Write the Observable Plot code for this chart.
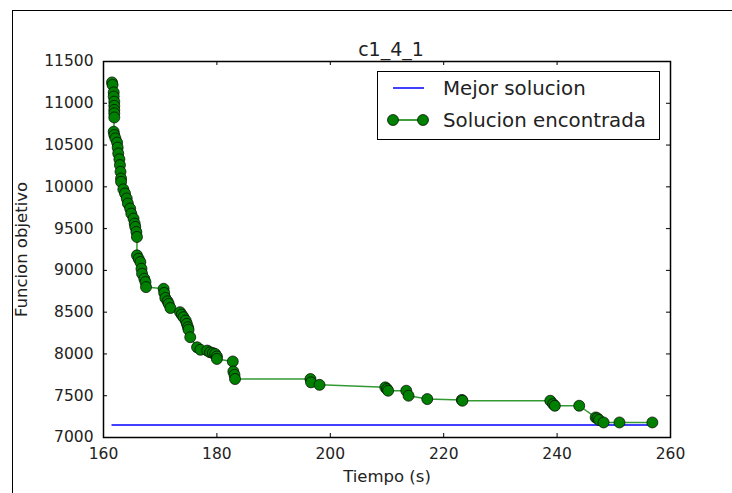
<!DOCTYPE html>
<html>
<head>
<meta charset="utf-8">
<script src="https://cdn.jsdelivr.net/npm/d3@7"></script>
<script src="https://cdn.jsdelivr.net/npm/@observablehq/plot@0.6"></script>
<style>
  html, body { margin: 0; padding: 0; background: #fff; }
  #wrap { position: relative; width: 732px; height: 493px; overflow: hidden; font-family: "DejaVu Sans", sans-serif; }
  #chart { position: absolute; left: 0; top: 0; }
  #border { position: absolute; left: 12px; top: 10px; width: 740px; height: 500px; border-left: 1.5px solid #000; border-top: 1.5px solid #000; }
  #legend { position: absolute; left: 377px; top: 71px; width: 281px; height: 67px; border: 1px solid #000; background: #fff; font-size: 19.8px; color: #222; }
  .row { position: absolute; left: 0; height: 20px; display: flex; align-items: center; }
  .row svg { position: absolute; left: 8px; }
  .row span { position: absolute; left: 65px; white-space: nowrap; }
</style>
</head>
<body>
<div id="wrap">
  <div id="chart"></div>
  <div id="border"></div>
  <div id="legend">
    <div class="row" style="top:6px"><svg id="lg1" width="50" height="20"></svg><span>Mejor solucion</span></div>
    <div class="row" style="top:38px"><svg id="lg2" width="50" height="20"></svg><span>Solucion encontrada</span></div>
  </div>
</div>
<script>
const chartTitle = "c1_4_1";
const xLabel = "Tiempo (s)";
const yLabel = "Funcion objetivo";
const seriesNames = ["Mejor solucion", "Solucion encontrada"];
const bestValue = 7150;
const xTicks = [160, 180, 200, 220, 240, 260];
const yTicks = [7000, 7500, 8000, 8500, 9000, 9500, 10000, 10500, 11000, 11500];

const times = [
  161.5, 161.6, 161.8, 161.8, 161.9, 161.9, 161.9, 161.9, 161.9,
  161.8, 161.9, 162.1, 162.4, 162.5, 162.6, 162.8, 162.9, 163.0, 163.1, 163.1,
  163.5, 163.8, 164.1, 164.3, 164.7, 164.9, 165.3, 165.5, 165.6, 165.8, 165.9,
  165.9, 166.2, 166.5, 166.7, 166.8, 167.2, 167.4, 167.5,
  170.6, 170.7, 170.9, 171.3, 171.5, 171.8,
  173.5, 173.8, 174.1, 174.5, 174.7, 174.9, 175.0, 175.3,
  176.5, 177.1, 178.3, 178.8, 179.3, 179.7, 180.0, 180.0,
  182.8, 182.9, 183.1, 183.2,
  196.5, 196.6, 198.1,
  209.7, 210.0, 210.2, 213.4, 213.8, 217.1,
  223.2, 223.3, 238.8, 239.3, 239.6, 243.9,
  246.8, 247.1, 247.4, 248.2, 251.0, 256.8
];
const values = [
  11250, 11220, 11130, 11080, 11020, 10970, 10920, 10880, 10830,
  10660, 10620, 10580, 10530, 10470, 10400, 10330, 10260, 10180, 10100, 10060,
  9970, 9920, 9860, 9800, 9740, 9680, 9620, 9560, 9520, 9460, 9400,
  9180, 9140, 9100, 9020, 8960, 8900, 8860, 8800,
  8780, 8730, 8670, 8630, 8600, 8550,
  8500, 8470, 8440, 8400, 8360, 8320, 8290, 8200,
  8080, 8050, 8040, 8020, 8010, 8000, 7970, 7940,
  7910, 7790, 7750, 7700,
  7700, 7660, 7630,
  7600, 7580, 7560, 7560, 7500, 7460,
  7450, 7440, 7440, 7400, 7380, 7380,
  7240, 7230, 7210, 7180, 7180, 7180
];

const data = times.map((t, i) => ({t, v: values[i]}));

const W = 732, H = 493;
const mL = 103, mR = 62, mT = 61, mB = 56;
const innerW = W - mL - mR, innerH = H - mT - mB;
const tickLen = 4;
const green = "#008000", blue = "#0000ff";

const plot = Plot.plot({
  width: W, height: H,
  marginLeft: mL, marginRight: mR, marginTop: mT, marginBottom: mB,
  style: {fontFamily: "DejaVu Sans, sans-serif", fontSize: "15.5px", color: "#222", background: "transparent"},
  x: {domain: [160, 260], label: null},
  y: {domain: [7000, 11500], label: null},
  marks: [
    Plot.axisX(xTicks, {tickSize: 0, tickPadding: 10, fontSize: 15.5, tickFormat: d => String(d)}),
    Plot.axisY(yTicks, {tickSize: 0, tickPadding: 10, fontSize: 15.5, tickFormat: d => String(d)}),
    Plot.ruleY([bestValue], {x1: times[0], x2: times[times.length - 1], stroke: blue, strokeWidth: 1.5}),
    Plot.line(data, {x: "t", y: "v", stroke: green, strokeWidth: 1.5, strokeOpacity: 0.8}),
    Plot.dot(data, {x: "t", y: "v", r: 5.5, fill: green, stroke: "#000", strokeWidth: 0.7}),
    Plot.tickX(xTicks, {x: d => d, insetTop: innerH - tickLen, stroke: "#000", strokeWidth: 1}),
    Plot.tickX(xTicks, {x: d => d, insetBottom: innerH - tickLen, stroke: "#000", strokeWidth: 1}),
    Plot.tickY(yTicks, {y: d => d, insetRight: innerW - tickLen, stroke: "#000", strokeWidth: 1}),
    Plot.tickY(yTicks, {y: d => d, insetLeft: innerW - tickLen, stroke: "#000", strokeWidth: 1}),
    Plot.frame({stroke: "#000", strokeWidth: 1.5}),
    Plot.text([chartTitle], {frameAnchor: "top", dy: -19, dx: 4, fontSize: 19, fill: "#222"}),
    Plot.text([xLabel], {frameAnchor: "bottom", dy: 44, fontSize: 16.5, fill: "#222"}),
    Plot.text([yLabel], {frameAnchor: "left", textAnchor: "middle", dx: -82, rotate: -90, fontSize: 16.5, fill: "#222"})
  ]
});
document.getElementById("chart").appendChild(plot);

// legend samples
const lg1 = d3.select("#lg1");
lg1.append("line").attr("x1", 7).attr("x2", 38).attr("y1", 10).attr("y2", 10).attr("stroke", blue).attr("stroke-width", 1.5);
const lg2 = d3.select("#lg2");
lg2.append("line").attr("x1", 7).attr("x2", 37).attr("y1", 10).attr("y2", 10).attr("stroke", green).attr("stroke-width", 1.5);
[7, 37].forEach(cx => lg2.append("circle").attr("cx", cx).attr("cy", 10).attr("r", 5.5).attr("fill", green).attr("stroke", "#000").attr("stroke-width", 0.7));
</script>
</body>
</html>
